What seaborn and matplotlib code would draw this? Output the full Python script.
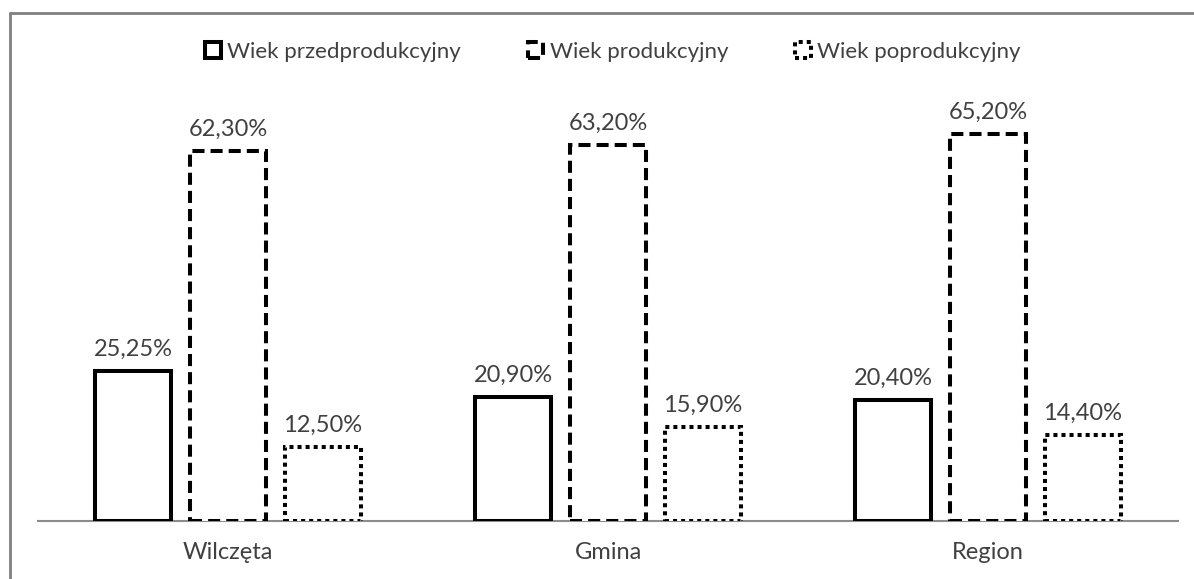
import matplotlib
matplotlib.use("Agg")

import matplotlib.pyplot as plt
from matplotlib.patches import Patch
from matplotlib.lines import Line2D
import seaborn as sns
import pandas as pd

# dane
categories = ["Wilczęta", "Gmina", "Region"]
groups = ["Wiek przedprodukcyjny", "Wiek produkcyjny", "Wiek poprodukcyjny"]
przedprodukcyjny = [25.25, 20.90, 20.40]
produkcyjny = [62.30, 63.20, 65.20]
poprodukcyjny = [12.50, 15.90, 14.40]

rows = []
for i, cat in enumerate(categories):
    rows.append((cat, groups[0], przedprodukcyjny[i]))
    rows.append((cat, groups[1], produkcyjny[i]))
    rows.append((cat, groups[2], poprodukcyjny[i]))
df = pd.DataFrame(rows, columns=["obszar", "grupa", "udzial"])

sns.set_style("white")
plt.rcParams["font.family"] = ["Lato", "DejaVu Sans"]

text_col = "#404040"
styles = ["solid", (0, (3, 1.5)), (0, (1, 1))]
lw = 2.9

fig = plt.figure(figsize=(11.94, 5.79), dpi=100)
ax = fig.add_axes([38 / 1194, 58 / 579, 1140 / 1194, 416 / 579])

sns.barplot(data=df, x="obszar", y="udzial", hue="grupa", order=categories,
            hue_order=groups, palette=["white"] * 3, edgecolor="black",
            linewidth=lw, width=0.75, gap=0.19, legend=False, ax=ax)

for cont, ls in zip(ax.containers, styles):
    for p in cont:
        p.set_linestyle(ls)
        p.set_joinstyle("miter")
    labels = [f"{v:.2f}%".replace(".", ",") for v in cont.datavalues]
    ax.bar_label(cont, labels=labels, padding=8, fontsize=17, color=text_col)

ax.set_xlim(-0.5, 2.5)
ax.set_ylim(0, 70)
ax.set_yticks([])
ax.set_xlabel("")
ax.set_ylabel("")
for s in ["top", "right", "left"]:
    ax.spines[s].set_visible(False)
ax.spines["bottom"].set_color("#8c8c8c")
ax.spines["bottom"].set_linewidth(1.5)
ax.spines["bottom"].set_zorder(0)
ax.tick_params(axis="x", length=0, pad=15, labelsize=17, labelcolor=text_col)

handles = [Patch(facecolor="white", edgecolor="black", linewidth=lw, linestyle=ls)
           for ls in styles]
fig.legend(handles, groups, loc="center", bbox_to_anchor=(613 / 1194, 1 - 52 / 579),
           ncol=3, frameon=False, fontsize=16, handlelength=0.7, handleheight=0.7,
           handletextpad=0.3, columnspacing=3.0, labelcolor=text_col)

# ramka wykresu
fig.add_artist(Line2D([9.5 / 1194, 9.5 / 1194], [0, 1 - 12.5 / 579],
                      transform=fig.transFigure, color="#808080", linewidth=2))
fig.add_artist(Line2D([9.5 / 1194, 1], [1 - 12.5 / 579, 1 - 12.5 / 579],
                      transform=fig.transFigure, color="#808080", linewidth=2))

plt.savefig("out.png", dpi=100)
plt.close()
